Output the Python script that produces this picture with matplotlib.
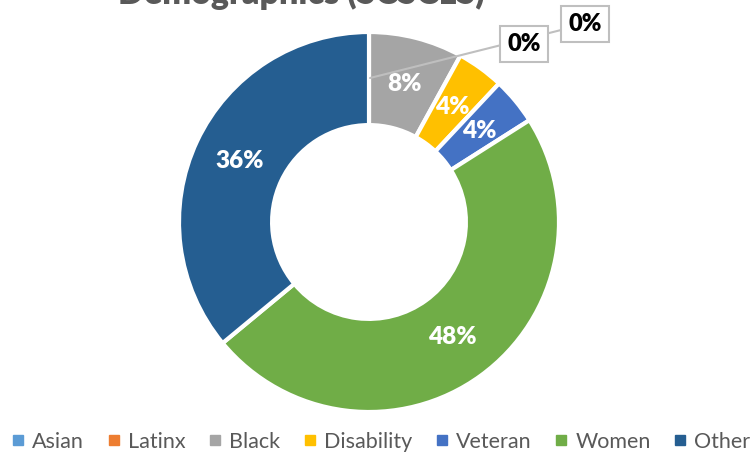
import matplotlib.pyplot as plt
from matplotlib.lines import Line2D

# data
categories = ['Asian', 'Latinx', 'Black', 'Disability', 'Veteran', 'Women', 'Other']
shares = [0, 0, 8, 4, 4, 48, 36]
colors = ['#5B9BD5', '#ED7D31', '#A5A5A5', '#FFC000', '#4472C4', '#70AD47', '#255E91']
title = 'Demographics (SCSCLS)'

plt.rcParams['font.family'] = ['Lato', 'DejaVu Sans']
grey = '#595959'

fig = plt.figure(figsize=(7.55, 4.55), dpi=100)
ax = fig.add_axes([0, 0, 1, 1])

cx, cy, R = 369, 455 - 222, 190

wedges, texts, autotexts = ax.pie(
    shares, colors=colors, center=(cx, cy), radius=R,
    startangle=90, counterclock=False,
    autopct=lambda p: f'{p:.0f}%' if p > 0 else '', pctdistance=0.75,
    wedgeprops=dict(width=R * 0.49, edgecolor='white', linewidth=3),
    textprops=dict(color='white', fontsize=17.5, fontweight='heavy'),
    frame=True)
ax.set_xlim(0, 755)
ax.set_ylim(0, 455)
ax.set_aspect('equal')
ax.axis('off')

# zero-value labels in boxes
box = dict(boxstyle='square,pad=0.3', fc='white', ec='#BFBFBF', lw=1.5)
ax.annotate('0%', xy=(cx + 1, cy + 144), xytext=(585, 455 - 24),
            ha='center', va='center', fontsize=17, fontweight='heavy', color='black',
            bbox=box, arrowprops=dict(arrowstyle='-', color='#BFBFBF', lw=1.5,
                                       shrinkA=0, shrinkB=0))
ax.text(524, 455 - 44, '0%', ha='center', va='center', fontsize=17,
        fontweight='heavy', color='black', bbox=box)

# title is clipped by the top edge, as in the original chart
ax.text(301, 455 - 4, title, ha='center', va='baseline', fontsize=24.5,
        fontweight='heavy', color=grey)

handles = [Line2D([], [], marker='s', ls='', color=c, markersize=7) for c in colors]
ax.legend(handles, categories, loc='lower center', bbox_to_anchor=(0.505, -0.035),
          ncol=7, frameon=False, fontsize=15.5, labelcolor=grey,
          handlelength=0.6, handletextpad=0.35, columnspacing=1.08)

fig.savefig('out.png', dpi=100)
